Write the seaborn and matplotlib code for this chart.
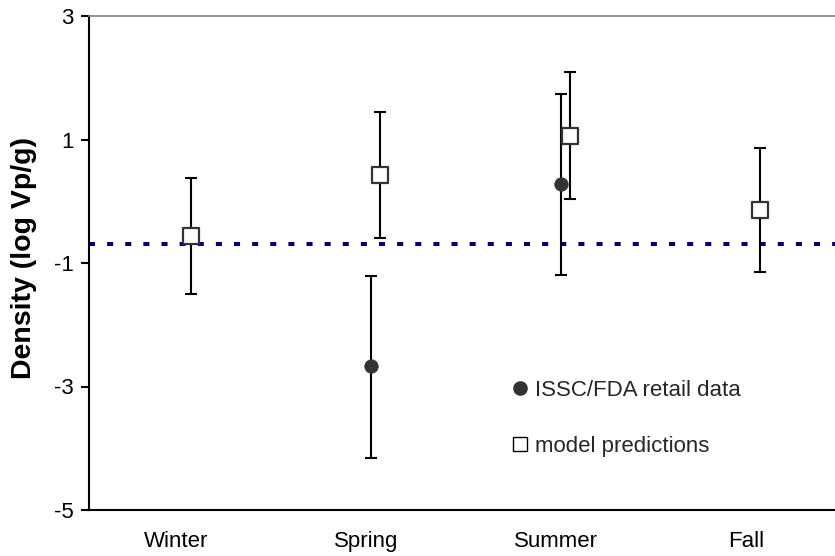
import numpy as np
import pandas as pd
import matplotlib
matplotlib.use("Agg")
import matplotlib.pyplot as plt
from matplotlib.lines import Line2D
import seaborn as sns

# ---- data ----
seasons = ["Winter", "Spring", "Summer", "Fall"]
retail_mean = [np.nan, -2.66, 0.28, np.nan]
retail_low = [np.nan, -4.15, -1.20, np.nan]
retail_high = [np.nan, -1.21, 1.74, np.nan]
model_mean = [-0.56, 0.43, 1.06, -0.14]
model_low = [-1.50, -0.60, 0.03, -1.14]
model_high = [0.38, 1.45, 2.10, 0.87]
threshold = -0.7
yticks = [3, 1, -1, -3, -5]

sns.set_theme(style="white")
plt.rcParams["font.family"] = ["Liberation Sans", "DejaVu Sans"]

idx = np.arange(len(seasons))
retail = pd.DataFrame({"season": seasons, "x": idx + 0.025, "mean": retail_mean,
                       "low": retail_low, "high": retail_high}).dropna()
model = pd.DataFrame({"season": seasons, "x": idx + 0.075, "mean": model_mean,
                      "low": model_low, "high": model_high})

fig = plt.figure(figsize=(8.35, 5.56), dpi=100)
ax = fig.add_axes([89 / 835, 46 / 556, 746 / 835, 494 / 556])

# threshold line
ax.axhline(threshold, color="#000080", lw=2.9, dashes=(1.5, 3), zorder=1)

# error bars
for df in (retail, model):
    ax.errorbar(df["x"], df["mean"],
                yerr=[df["mean"] - df["low"], df["high"] - df["mean"]],
                fmt="none", ecolor="black", elinewidth=1.5, capsize=4,
                capthick=1.5, zorder=2)

sns.scatterplot(data=retail, x="x", y="mean", ax=ax, marker="o", s=95,
                color="#333333", edgecolor="#333333", linewidth=0.5, zorder=3,
                legend=False)
sns.scatterplot(data=model, x="x", y="mean", ax=ax, marker="s", s=125,
                facecolor="white", edgecolor="#333333", linewidth=1.6, zorder=3,
                legend=False)

ax.set_xlim(-0.46, 3.47)
ax.set_ylim(-5, 3)
ax.set_xticks(idx)
ax.set_xticklabels(seasons)
ax.set_yticks(yticks)
ax.set_yticklabels([str(t) for t in yticks])
ax.set_xlabel("")
ax.set_ylabel("Density (log Vp/g)", fontsize=20.5, fontweight="bold", color="black")
ax.yaxis.set_label_coords(-0.07, 0.51)

ax.tick_params(axis="x", length=0, pad=15, labelsize=16, labelcolor="black")
ax.tick_params(axis="y", length=6, width=1.5, pad=5, labelsize=16,
               labelcolor="black", color="black", left=True, direction="out")

for s in ("left", "bottom"):
    ax.spines[s].set_color("black")
    ax.spines[s].set_linewidth(1.5)
ax.spines["top"].set_color("#808080")
ax.spines["top"].set_linewidth(1.2)
ax.spines["right"].set_visible(False)

handles = [
    Line2D([], [], marker="o", ls="none", color="#333333", markersize=9.5),
    Line2D([], [], marker="s", ls="none", markerfacecolor="white",
           markeredgecolor="black", markeredgewidth=1.0, markersize=9.5),
]
ax.legend(handles, ["ISSC/FDA retail data", "model predictions"],
          loc="upper left", bbox_to_anchor=(0.569, 0.263), frameon=False,
          fontsize=16, handlelength=0.6, handletextpad=0.35, labelspacing=1.58,
          borderpad=0, borderaxespad=0)

fig.savefig("out.png", dpi=100)
